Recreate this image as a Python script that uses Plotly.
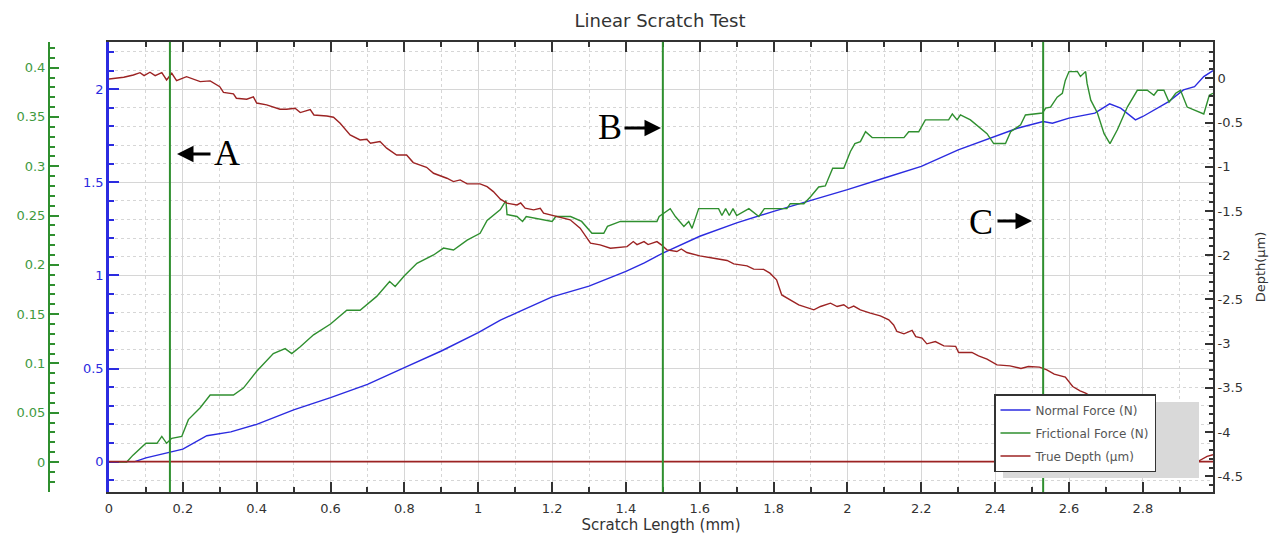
import plotly.graph_objects as go

# ---------------- data ----------------
normal_x = [0, 0.07, 0.10, 0.165, 0.2, 0.265, 0.33, 0.4, 0.5, 0.6, 0.7, 0.8, 0.9, 1.0, 1.06,
            1.114, 1.2, 1.3, 1.4, 1.45, 1.5, 1.6, 1.7, 1.8, 1.88, 2.0, 2.1, 2.2, 2.3, 2.4, 2.46,
            2.53, 2.555, 2.6, 2.67, 2.71, 2.74, 2.78, 2.8, 2.87, 2.91, 2.94, 2.965, 2.99]
normal_force = [0, 0, 0.02, 0.05, 0.067, 0.139, 0.16, 0.2, 0.278, 0.344, 0.415, 0.505, 0.594,
                0.693, 0.76, 0.808, 0.885, 0.942, 1.022, 1.067, 1.12, 1.21, 1.282, 1.344, 1.389,
                1.46, 1.523, 1.585, 1.674, 1.746, 1.79, 1.826, 1.817, 1.844, 1.871, 1.921, 1.898,
                1.835, 1.853, 1.933, 1.996, 2.013, 2.067, 2.099]

fric_x = [0, 0.048, 0.065, 0.1, 0.13, 0.143, 0.156, 0.17, 0.197, 0.215, 0.247, 0.274, 0.337,
          0.364, 0.4, 0.445, 0.477, 0.495, 0.518, 0.554, 0.6, 0.644, 0.68, 0.725, 0.76, 0.775,
          0.8, 0.834, 0.879, 0.906, 0.933, 0.97, 1.005, 1.024, 1.06, 1.075, 1.078, 1.105, 1.12,
          1.13, 1.2, 1.21, 1.25, 1.28, 1.308, 1.34, 1.35, 1.385, 1.484, 1.49, 1.52, 1.534,
          1.557, 1.57, 1.579, 1.597, 1.651, 1.66, 1.67, 1.68, 1.69, 1.7, 1.733, 1.76, 1.775,
          1.836, 1.845, 1.882, 1.9, 1.922, 1.94, 1.96, 1.99, 2.008, 2.02, 2.035, 2.049, 2.067,
          2.153, 2.166, 2.193, 2.211, 2.274, 2.284, 2.297, 2.306, 2.333, 2.351, 2.378, 2.396,
          2.428, 2.442, 2.469, 2.482, 2.528, 2.537, 2.55, 2.568, 2.582, 2.59, 2.6, 2.623,
          2.631, 2.645, 2.649, 2.659, 2.677, 2.695, 2.711, 2.731, 2.758, 2.785, 2.812, 2.83,
          2.84, 2.857, 2.871, 2.889, 2.902, 2.92, 2.938, 2.965, 2.98, 2.99]
frictional_force = [0, 0, 0.007, 0.019, 0.019, 0.026, 0.019, 0.024, 0.026, 0.043, 0.055, 0.068,
                    0.068, 0.075, 0.092, 0.110, 0.115, 0.110, 0.117, 0.129, 0.140, 0.154, 0.154,
                    0.168, 0.183, 0.178, 0.189, 0.2015, 0.21, 0.217, 0.215, 0.225, 0.232, 0.245,
                    0.256, 0.265, 0.251, 0.249, 0.244, 0.249, 0.244, 0.249, 0.249, 0.244, 0.232,
                    0.232, 0.239, 0.244, 0.244, 0.249, 0.257, 0.249, 0.239, 0.244, 0.237, 0.257,
                    0.257, 0.25, 0.257, 0.25, 0.257, 0.25, 0.257, 0.249, 0.257, 0.257, 0.262,
                    0.262, 0.269, 0.279, 0.28, 0.298, 0.298, 0.315, 0.323, 0.325, 0.335, 0.329,
                    0.329, 0.335, 0.335, 0.347, 0.347, 0.353, 0.347, 0.352, 0.347, 0.341, 0.333,
                    0.323, 0.323, 0.335, 0.342, 0.352, 0.354, 0.359, 0.36, 0.37, 0.374, 0.387,
                    0.396, 0.396, 0.391, 0.396, 0.384, 0.367, 0.354, 0.333, 0.323, 0.337, 0.36,
                    0.377, 0.377, 0.372, 0.377, 0.377, 0.365, 0.374, 0.377, 0.36, 0.357, 0.353,
                    0.372, 0.374]

depth_x = [0, 0.04, 0.066, 0.084, 0.095, 0.111, 0.125, 0.143, 0.156, 0.17, 0.183, 0.21, 0.247,
           0.274, 0.3, 0.31, 0.337, 0.345, 0.373, 0.391, 0.4, 0.427, 0.463, 0.481, 0.504, 0.518,
           0.545, 0.555, 0.59, 0.608, 0.626, 0.653, 0.68, 0.698, 0.708, 0.734, 0.752, 0.779,
           0.806, 0.824, 0.86, 0.879, 0.915, 0.933, 0.951, 0.97, 1.005, 1.024, 1.041, 1.06,
           1.078, 1.105, 1.115, 1.127, 1.15, 1.168, 1.177, 1.213, 1.249, 1.276, 1.304, 1.33,
           1.358, 1.403, 1.42, 1.43, 1.449, 1.46, 1.484, 1.495, 1.511, 1.538, 1.55, 1.565, 1.6,
           1.638, 1.674, 1.692, 1.728, 1.746, 1.773, 1.79, 1.808, 1.822, 1.846, 1.868, 1.909,
           1.927, 1.954, 1.972, 1.99, 2.003, 2.017, 2.035, 2.062, 2.089, 2.112, 2.125, 2.134,
           2.153, 2.175, 2.185, 2.202, 2.215, 2.238, 2.261, 2.293, 2.301, 2.337, 2.355, 2.378,
           2.405, 2.44, 2.47, 2.49, 2.52, 2.54, 2.56, 2.59, 2.61, 2.63, 2.645, 2.7, 2.76, 2.82,
           2.88, 2.95, 2.974, 2.99]
true_depth = [-0.008, 0.011, 0.037, 0.063, 0.03, 0.068, 0.03, 0.063, -0.019, 0.056, -0.027,
              0.018, -0.038, -0.03, -0.095, -0.16, -0.177, -0.226, -0.237, -0.21, -0.28, -0.3,
              -0.35, -0.35, -0.339, -0.388, -0.355, -0.415, -0.426, -0.44, -0.508, -0.64,
              -0.697, -0.69, -0.735, -0.716, -0.79, -0.867, -0.867, -0.953, -1.006, -1.074,
              -1.13, -1.168, -1.149, -1.194, -1.194, -1.225, -1.281, -1.367, -1.412, -1.432,
              -1.41, -1.469, -1.488, -1.47, -1.525, -1.563, -1.6, -1.695, -1.864, -1.883,
              -1.921, -1.903, -1.846, -1.88, -1.846, -1.88, -1.846, -1.88, -1.94, -1.959, -1.93,
              -1.97, -2.008, -2.034, -2.06, -2.098, -2.12, -2.158, -2.16, -2.203, -2.279, -2.449,
              -2.505, -2.562, -2.618, -2.58, -2.542, -2.58, -2.56, -2.6, -2.575, -2.618, -2.655,
              -2.686, -2.731, -2.788, -2.863, -2.889, -2.851, -2.92, -2.938, -3.002, -2.976,
              -3.025, -3.03, -3.1, -3.1, -3.138, -3.175, -3.24, -3.251, -3.281, -3.258, -3.265,
              -3.296, -3.345, -3.379, -3.485, -3.533, -3.56, -3.7, -3.85, -4.0, -4.15, -4.33,
              -4.275, -4.256]

marker_positions = [0.165, 1.5, 2.53]
marker_labels = ["A", "B", "C"]

x_ticks_dtick = 0.2
depth_tick_vals = [0, -0.5, -1, -1.5, -2, -2.5, -3, -3.5, -4, -4.5]
depth_tick_text = ["0", "-0.5", "-1", "-1.5", "-2", "-2.5", "-3", "-3.5", "-4", "-4.5"]

# ---------------- styling ----------------
W, H = 1271, 537
ML, MR, MT, MB = 40, 58, 42, 45
PW = W - ML - MR
PH = H - MT - MB


def px_x(px):
    return (px - ML) / PW


def px_y(py):
    return (H - MB - py) / PH


FONT = "DejaVu Sans"
BLUE = "#2b2be0"
GREEN = "#2f8f2f"
GREEN_TXT = "#3f9a3f"
RED = "#9c2323"
GRID = "#d6d6d6"
AX = "#333333"

fig = go.Figure()
fig.add_trace(go.Scatter(x=normal_x, y=normal_force, name="Normal Force (N)", mode="lines",
                         line=dict(color=BLUE, width=1.4), yaxis="y", legendgroup="a"))
fig.add_trace(go.Scatter(x=fric_x, y=frictional_force, name="Frictional Force (N)", mode="lines",
                         line=dict(color=GREEN, width=1.4), yaxis="y2", legendgroup="b"))
fig.add_trace(go.Scatter(x=depth_x, y=true_depth, name="True Depth (µm)", mode="lines",
                         line=dict(color=RED, width=1.4), yaxis="y3", legendgroup="c"))

# zero baseline (maroon)
fig.add_hline(y=0, line=dict(color=RED, width=1.6), layer="above")

# vertical markers
for xv in marker_positions:
    fig.add_vline(x=xv, line=dict(color=GREEN, width=2), layer="above")

# legend shadow
fig.add_shape(type="rect", xref="paper", yref="paper",
              x0=px_x(1003), x1=px_x(1199), y0=px_y(478), y1=px_y(402),
              fillcolor="#d9d9d9", line=dict(width=0), layer="above")

# A / B / C labels with arrows
label_specs = [
    dict(tx=227, ty=153, hx=177, hy=154, ax=35),
    dict(tx=610, ty=127, hx=661, hy=128, ax=-38),
    dict(tx=981, ty=222, hx=1032, hy=221, ax=-36),
]
for lab, s in zip(marker_labels, label_specs):
    fig.add_annotation(x=px_x(s["hx"]), y=px_y(s["hy"]), xref="paper", yref="paper",
                       text="", showarrow=True, ax=s["ax"], ay=0, arrowhead=2,
                       arrowsize=1.1, arrowwidth=3, arrowcolor="black", standoff=0)
    fig.add_annotation(x=px_x(s["tx"]), y=px_y(s["ty"]), xref="paper", yref="paper",
                       text=lab, showarrow=False, xanchor="center", yanchor="middle",
                       font=dict(family="Liberation Serif", size=36, color="black"))

x0_dom = px_x(109)

fig.update_layout(
    width=W, height=H,
    margin=dict(l=ML, r=MR, t=MT, b=MB, autoexpand=False),
    paper_bgcolor="white", plot_bgcolor="white",
    font=dict(family=FONT, size=13, color=AX),
    title=dict(text="Linear Scratch Test", x=660 / W, xref="container", xanchor="center",
               y=1 - 21 / H, yref="container", yanchor="middle",
               font=dict(family=FONT, size=18, color="#333")),
    xaxis=dict(domain=[x0_dom, 1], range=[0, 2.99], tickmode="linear", tick0=0,
               dtick=x_ticks_dtick, ticks="inside", ticklen=10, tickwidth=1.5, tickcolor=AX,
               showline=True, linecolor=AX, linewidth=2, mirror="ticks",
               showgrid=True, gridcolor=GRID, gridwidth=1.3, zeroline=False,
               minor=dict(tickmode="linear", tick0=0, dtick=0.1, ticks="inside", ticklen=5,
                          tickcolor=AX, showgrid=True, gridcolor=GRID, griddash="dot", gridwidth=1),
               tickfont=dict(size=13, color=AX), ticklabelstandoff=3,
               title=dict(text="Scratch Length (mm)", font=dict(size=15, color=AX), standoff=4)),
    yaxis=dict(range=[-0.163, 2.253], tickmode="linear", tick0=0, dtick=0.5,
               ticks="inside", ticklen=10, tickwidth=1.5, tickcolor=BLUE,
               showline=True, linecolor=BLUE, linewidth=2.5,
               showgrid=True, gridcolor=GRID, gridwidth=1.3, zeroline=False,
               minor=dict(tickmode="linear", tick0=0, dtick=0.1, ticks="inside", ticklen=5,
                          tickcolor=BLUE, showgrid=True, gridcolor=GRID, griddash="dot", gridwidth=1),
               tickfont=dict(size=13, color=BLUE)),
    yaxis2=dict(overlaying="y", anchor="free", position=px_x(49), side="left",
                range=[-0.0304, 0.426], tickmode="linear", tick0=0, dtick=0.05,
                ticks="inside", ticklen=9, tickwidth=1.5, tickcolor=GREEN,
                showline=True, linecolor=GREEN, linewidth=2, showgrid=False, zeroline=False,
                minor=dict(tickmode="linear", tick0=0, dtick=0.01, ticks="inside", ticklen=5,
                           tickcolor=GREEN, showgrid=False),
                tickfont=dict(size=13, color=GREEN_TXT)),
    yaxis3=dict(overlaying="y", anchor="x", side="right", range=[-4.677, 0.41],
                tickmode="array", tickvals=depth_tick_vals, ticktext=depth_tick_text,
                ticks="inside", ticklen=8, tickwidth=1.5, tickcolor=AX,
                showline=True, linecolor=AX, linewidth=2, showgrid=False, zeroline=False,
                minor=dict(tickmode="linear", tick0=0, dtick=0.1, ticks="inside", ticklen=4,
                           tickcolor=AX, showgrid=False),
                tickfont=dict(size=13, color=AX),
                title=dict(text="Depth(µm)", font=dict(size=13, color=AX), standoff=14)),
    legend=dict(x=px_x(994), y=px_y(394), xanchor="left", yanchor="top",
                bgcolor="white", bordercolor=AX, borderwidth=1.5,
                font=dict(family=FONT, size=12, color="#555"), tracegroupgap=4,
                entrywidth=142),
    showlegend=True,
)

fig.write_html("out.html", config={"displayModeBar": False},
               post_script="document.body.style.margin='0px';document.body.style.overflow='hidden';")
